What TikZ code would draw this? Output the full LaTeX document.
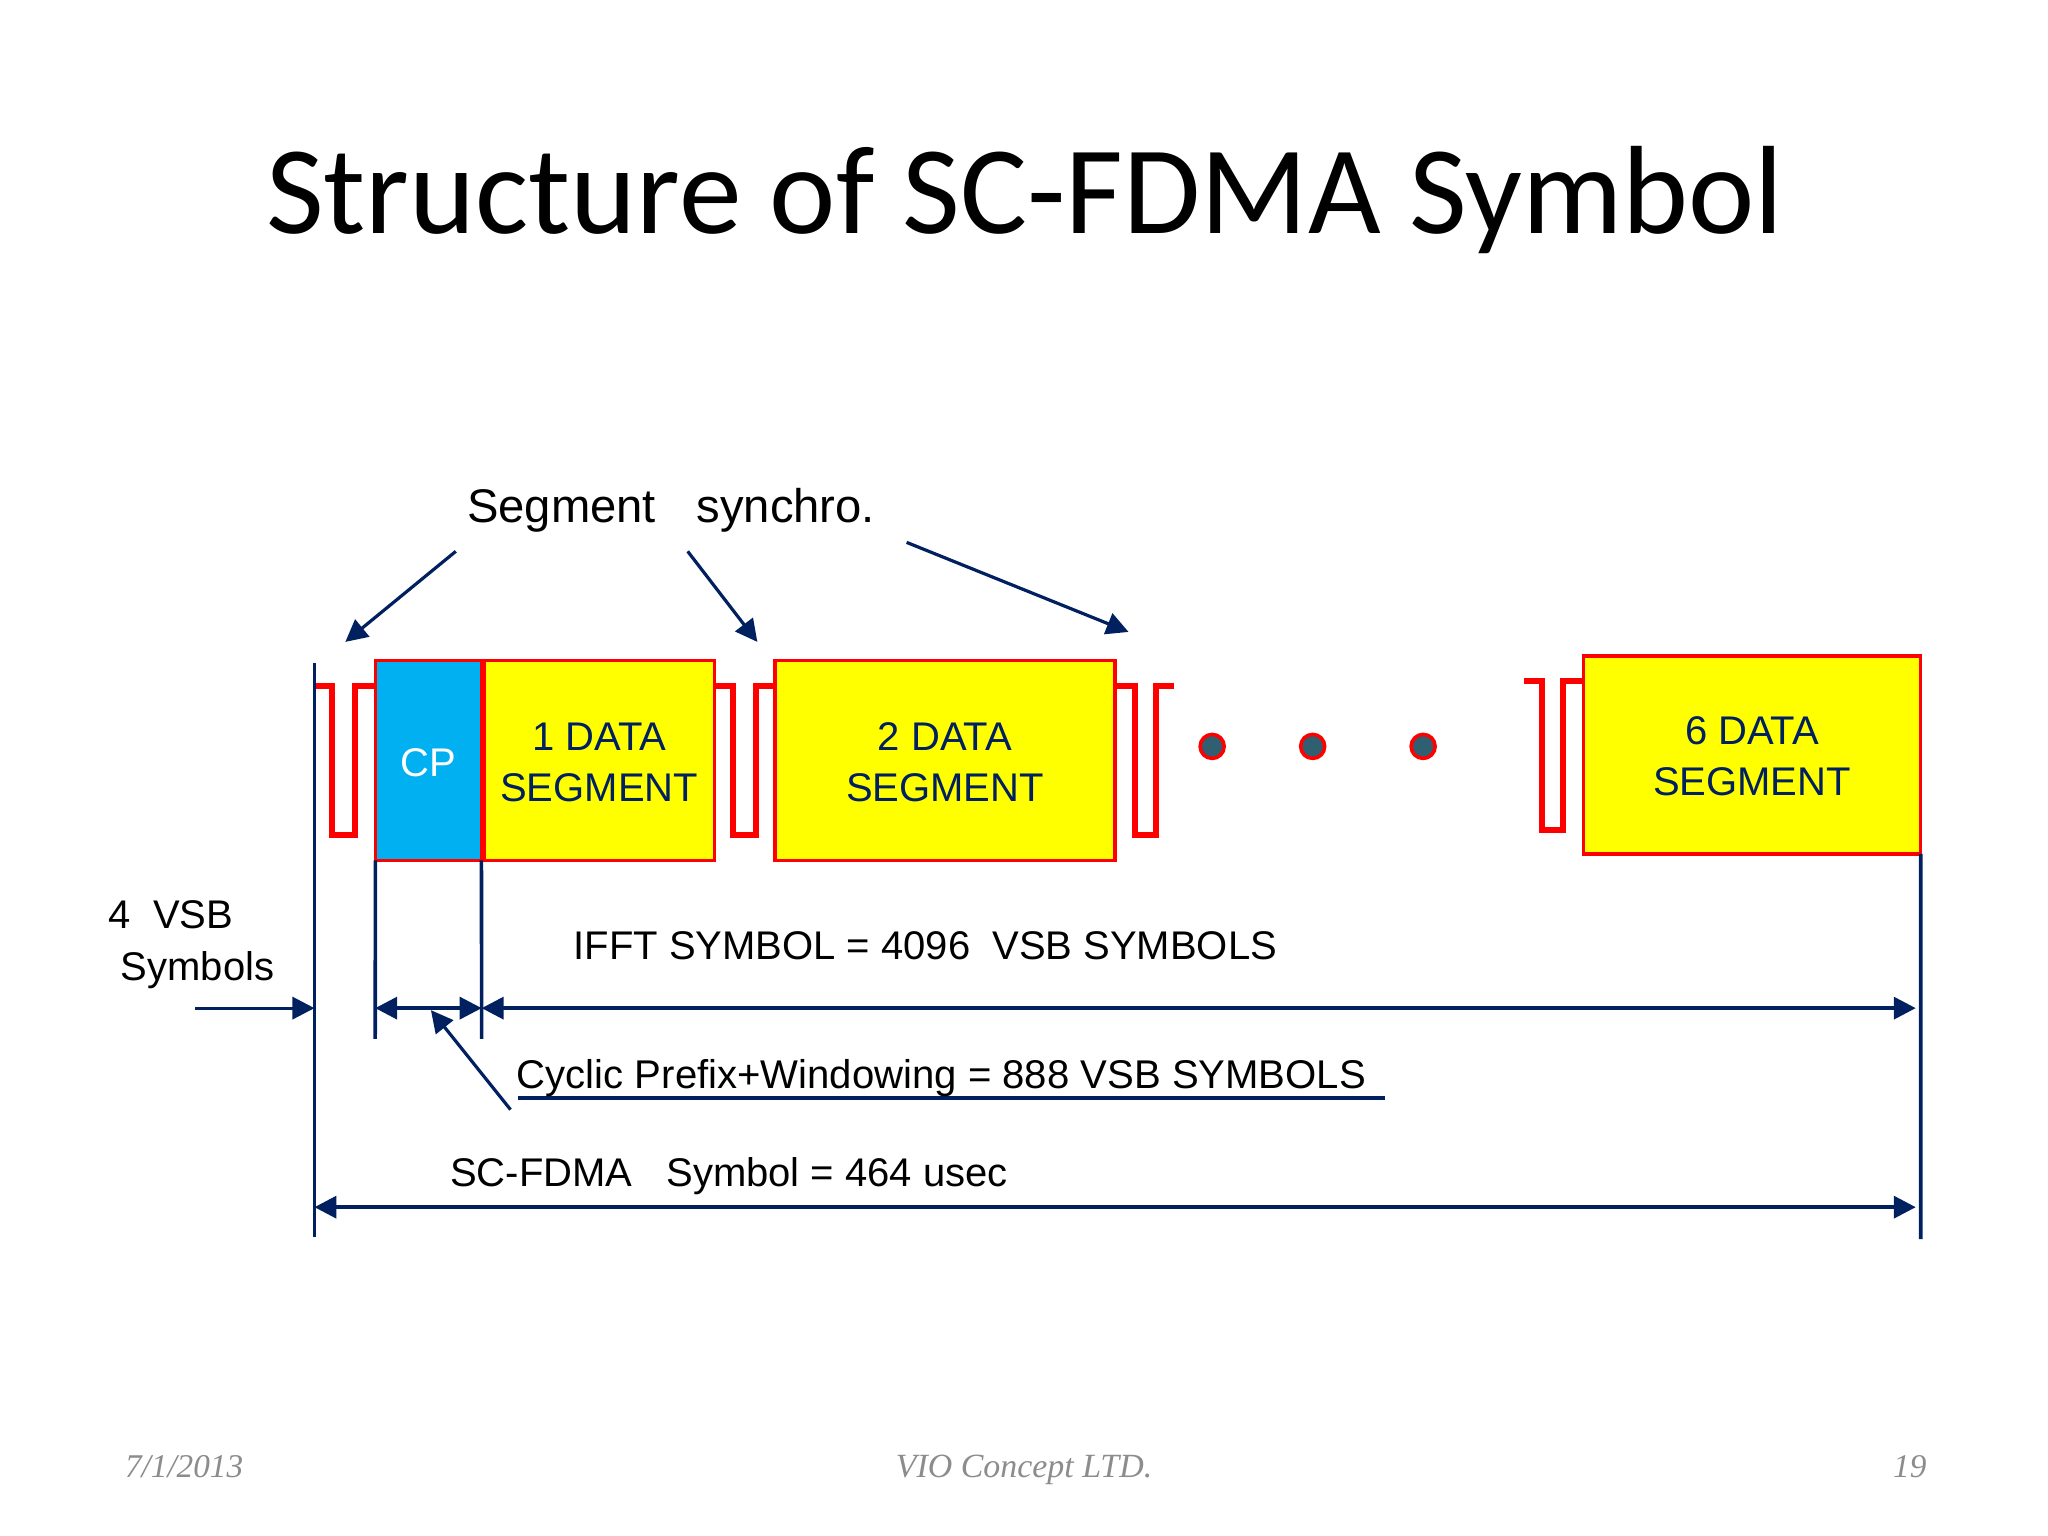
\documentclass[tikz,border=0pt]{standalone}
\usepackage{fontspec}
\setmainfont{Liberation Sans}
\newfontfamily\titlefont{Carlito}
\newfontfamily\footfont{Liberation Serif}
\usetikzlibrary{arrows.meta}
\definecolor{navy}{HTML}{002060}
\definecolor{sigred}{HTML}{FF0000}
\definecolor{boxyellow}{HTML}{FFFF00}
\definecolor{cpblue}{HTML}{00B0F0}
\definecolor{dotfill}{HTML}{2F5F70}
\definecolor{footgray}{HTML}{8C8C8C}
\tikzset{
  databox/.style={draw=sigred,fill=boxyellow,line width=1.7pt,inner sep=0pt,outer sep=0pt,
    text=navy,align=center,font=\fontsize{20}{25.5}\selectfont},
  cpbox/.style={draw=sigred,fill=cpblue,line width=1.7pt,inner sep=0pt,outer sep=0pt,
    text=white,font=\fontsize{20}{24}\selectfont},
  pulse/.style={draw=sigred,line width=3pt,line join=miter},
  guide/.style={draw=navy,line width=1.8pt},
  dim/.style={draw=navy,line width=1.8pt,{Triangle[length=11pt,width=11pt]}-{Triangle[length=11pt,width=11pt]}},
  pointer/.style={draw=navy,line width=1.6pt,-{Triangle[length=11pt,width=11pt]}},
  lbl/.style={anchor=base west,inner sep=0pt,font=\fontsize{20}{24}\selectfont},
  foot/.style={anchor=base,inner sep=0pt,text=footgray,font=\footfont\itshape\fontsize{16.6}{20}\selectfont},
  dot/.style={circle,draw=sigred,fill=dotfill,line width=1.8pt,minimum size=12pt,inner sep=0pt}
}
\begin{document}
\begin{tikzpicture}[x=0.4976pt,y=-0.4976pt]
\useasboundingbox (0,0) rectangle (2057.9,1543.4);
\fill[white] (0,0) rectangle (2057.9,1543.4);
\node[anchor=base,inner sep=0pt,font=\titlefont\fontsize{62.8}{70}\selectfont] (title) at (1030,235) {Structure of SC-FDMA Symbol};

% boxes
\node[cpbox,minimum width=53pt,minimum height=100pt] (cp) at (430.5,764) {\rule{0pt}{16.5pt}CP};
\node[databox,minimum width=115.3pt,minimum height=100pt] (d1) at (602,764) {\rule{0pt}{15.5pt}1 DATA\\SEGMENT};
\node[databox,minimum width=170pt,minimum height=100pt] (d2) at (949.5,764) {\rule{0pt}{15.5pt}2 DATA\\SEGMENT};
\node[databox,minimum width=168.7pt,minimum height=99pt] (d6) at (1760.5,758.5) {\rule{0pt}{15.5pt}6 DATA\\SEGMENT};

% coordinates
\coordinate (L0) at (316,666);
\coordinate (L1) at (316,1243);
\coordinate (P0) at (316,689);
\coordinate (C0) at (377,1044);
\coordinate (C1) at (484,1044);
\coordinate (R1) at (1930,1245);
\coordinate (Mid) at (377,1013);
\coordinate (Mid2) at (484,1013);
\coordinate (MidR) at (1925,1013);
\coordinate (Sa) at (316,1213);
\coordinate (Sb) at (1925,1213);
\coordinate (Vs) at (196,1013);
\coordinate (Vt) at (316,1013);
\coordinate (U0) at (520,1103);
\coordinate (U1) at (1392,1103);
\coordinate (Pa) at (513,1115);
\coordinate (Pb) at (433,1015);
\coordinate (A1s) at (458,554);
\coordinate (A1e) at (347,645);
\coordinate (A2s) at (691,554);
\coordinate (A2e) at (761,645);
\coordinate (A3s) at (911,545);
\coordinate (A3e) at (1134,635);
\coordinate (P3e) at (1180,689);
\coordinate (P4s) at (1531,684);

% sync pulses
\draw[pulse] (P0) -- (334,689) -- (334,839) -- (357,839) -- (357,689) -- (cp.west |- P0);
\draw[pulse] (d1.east |- P0) -- (737,689) -- (737,839) -- (760,839) -- (760,689) -- (d2.west |- P0);
\draw[pulse] (d2.east |- P0) -- (1140,689) -- (1140,839) -- (1162,839) -- (1162,689) -- (P3e);
\draw[pulse] (P4s) -- (1549,684) -- (1549,834) -- (1571,834) -- (1571,684) -- (d6.west |- P4s);

% dots
\node[dot] (dota) at (1218,750) {};
\node[dot] (dotb) at (1319,750) {};
\node[dot] (dotc) at (1430,750) {};

% guides
\draw[guide] (L0) -- (L1);
\draw[guide] (cp.south west) -- (C0);
\draw[guide] (cp.south east) -- (C1);
\draw[guide] (d6.south east) -- (R1);
\draw[dim] (Mid) -- (Mid2);
\draw[dim] (Mid2) -- (MidR);
\draw[dim] (Sa) -- (Sb);
\draw[pointer] (Vs) -- (Vt);
\draw[pointer] (Pa) -- (Pb);
\draw[pointer] (A1s) -- (A1e);
\draw[pointer] (A2s) -- (A2e);
\draw[pointer] (A3s) -- (A3e);
\draw[guide] (U0) -- (U1);

% labels
\node[lbl,font=\fontsize{23.6}{28}\selectfont] (seg) at (469,525) {Segment\hspace{0.86em}synchro.};
\node[lbl] (vsb1) at (109,933) {4\hspace{0.55em}VSB};
\node[lbl] (vsb2) at (121,985) {Symbols};
\node[lbl] (ifft) at (576,964) {IFFT SYMBOL = 4096\hspace{0.55em}VSB SYMBOLS};
\node[lbl,font=\fontsize{20.05}{24}\selectfont] (cyc) at (519,1094) {Cyclic Prefix+Windowing = 888 VSB SYMBOLS};
\node[lbl] (sc) at (452,1192) {SC-FDMA\hspace{0.85em}Symbol = 464 usec};

% footer
\node[foot] (fdate) at (185,1485) {7/1/2013};
\node[foot,font=\footfont\itshape\fontsize{16.95}{20}\selectfont] (fmid) at (1029,1485) {VIO Concept LTD.};
\node[foot] (fnum) at (1919,1485) {19};
\end{tikzpicture}
\end{document}
